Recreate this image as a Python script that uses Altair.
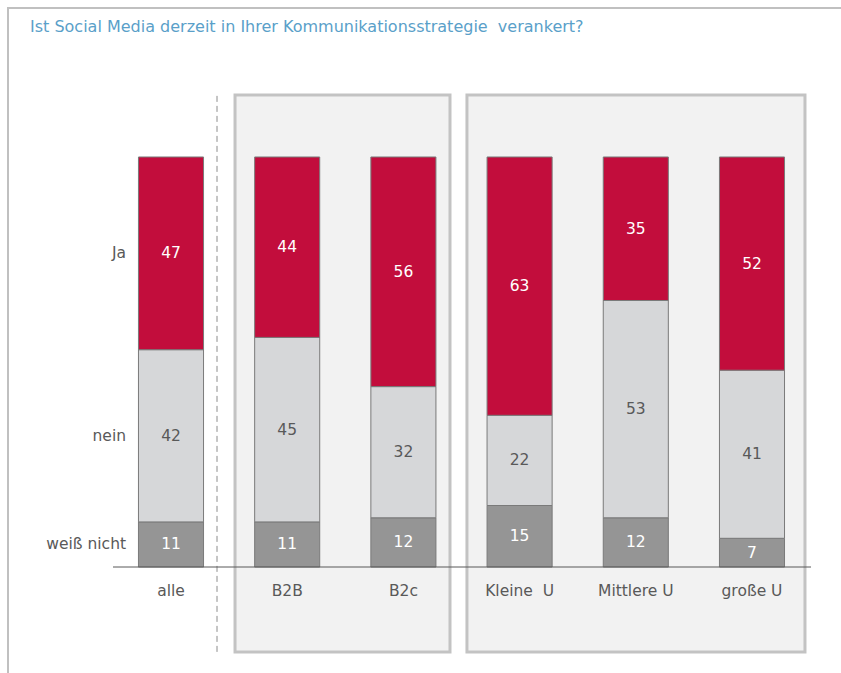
import altair as alt
import pandas as pd

categories = ["alle", "B2B", "B2c", "Kleine\u00a0 U", "Mittlere U", "große U"]
ja = [47, 44, 56, 63, 35, 52]
nein = [42, 45, 32, 22, 53, 41]
weiss = [11, 11, 12, 15, 12, 7]
answers = ["weiß nicht", "nein", "Ja"]
title_text = "Ist Social Media derzeit in Ihrer Kommunikationsstrategie\u00a0 verankert?"

FONT = "DejaVu Sans"
FS = 15.5
HALF = 0.28

rows = []
for i, c in enumerate(categories):
    lo = 0
    for a, v in zip(answers, [weiss[i], nein[i], ja[i]]):
        rows.append({"cat": c, "idx": i, "answer": a, "value": v,
                     "lo": lo, "hi": lo + v, "mid": lo + v / 2,
                     "x1": i - HALF, "x2": i + HALF})
        lo += v
seg = pd.DataFrame(rows)

xs = alt.Scale(domain=[-1.4716, 5.766], nice=False, zero=False)
ys = alt.Scale(domain=[-25.85, 138.29], nice=False, zero=False)

colors = alt.Scale(domain=answers, range=["#959595", "#d6d7d9", "#c20d3c"])
txtcol = alt.Scale(domain=answers, range=["#ffffff", "#595959", "#ffffff"])

boxes = pd.DataFrame({"x1": [0.551, 2.547], "x2": [2.401, 5.456],
                      "y1": [-20.7, -20.7], "y2": [115.1, 115.1]})
box_layer = alt.Chart(boxes).mark_rect(fill="#f2f2f2", stroke="#c3c3c3", strokeWidth=3).encode(
    x=alt.X("x1:Q", scale=xs, axis=None), x2="x2:Q",
    y=alt.Y("y1:Q", scale=ys, axis=None), y2="y2:Q")

dash = alt.Chart(pd.DataFrame({"x": [0.396], "y1": [-20.7], "y2": [115.1]})).mark_rule(
    color="#8c8c8c", strokeDash=[6, 4], strokeWidth=1).encode(
    x=alt.X("x:Q", scale=xs, axis=None), y=alt.Y("y1:Q", scale=ys, axis=None), y2="y2:Q")

bars = alt.Chart(seg).mark_rect(stroke="#7a7a7a", strokeWidth=1).encode(
    x=alt.X("x1:Q", scale=xs, axis=None), x2="x2:Q",
    y=alt.Y("lo:Q", scale=ys, axis=None), y2="hi:Q",
    fill=alt.Fill("answer:N", scale=colors, legend=None))

base = alt.Chart(pd.DataFrame({"x1": [-0.499], "x2": [5.508], "y": [0]})).mark_rule(
    color="#595959", strokeWidth=1).encode(
    x=alt.X("x1:Q", scale=xs, axis=None), x2="x2:Q", y=alt.Y("y:Q", scale=ys, axis=None))

vals = alt.Chart(seg).mark_text(font=FONT, fontSize=FS, baseline="middle").encode(
    x=alt.X("idx:Q", scale=xs, axis=None), y=alt.Y("mid:Q", scale=ys, axis=None),
    text="value:Q", color=alt.Color("answer:N", scale=txtcol, legend=None))

catdf = pd.DataFrame({"cat": categories, "idx": list(range(len(categories))), "y": [-5.85] * 6})
cats = alt.Chart(catdf).mark_text(font=FONT, fontSize=FS, color="#595959", baseline="middle").encode(
    x=alt.X("idx:Q", scale=xs, axis=None), y=alt.Y("y:Q", scale=ys, axis=None), text="cat:N")

lab = seg[seg["idx"] == 0].copy()
lab["lx"] = -0.387
labels = alt.Chart(lab).mark_text(font=FONT, fontSize=FS, color="#595959", align="right",
                                  baseline="middle").encode(
    x=alt.X("lx:Q", scale=xs, axis=None), y=alt.Y("mid:Q", scale=ys, axis=None), text="answer:N")

title = alt.Chart(pd.DataFrame({"t": [title_text]})).mark_text(
    font=FONT, fontSize=16, color="#5a9fc9", align="left", baseline="middle").encode(
    x=alt.value(30), y=alt.value(27), text="t:N")

frame_top = alt.Chart(pd.DataFrame({"a": [0]})).mark_rule(color="#c0c0c0", strokeWidth=2).encode(
    x=alt.value(8), x2=alt.value(841), y=alt.value(8))
frame_left = alt.Chart(pd.DataFrame({"a": [0]})).mark_rule(color="#c0c0c0", strokeWidth=2).encode(
    x=alt.value(8), y=alt.value(7), y2=alt.value(673))

chart = alt.layer(box_layer, dash, bars, base, vals, cats, labels, title, frame_top, frame_left).properties(
    width=841, height=673, padding=0, autosize=alt.AutoSizeParams(type="none"),
    background="#ffffff"
).configure_view(stroke=None)

chart.save("out.html", embed_options={"renderer": "svg", "actions": False})
